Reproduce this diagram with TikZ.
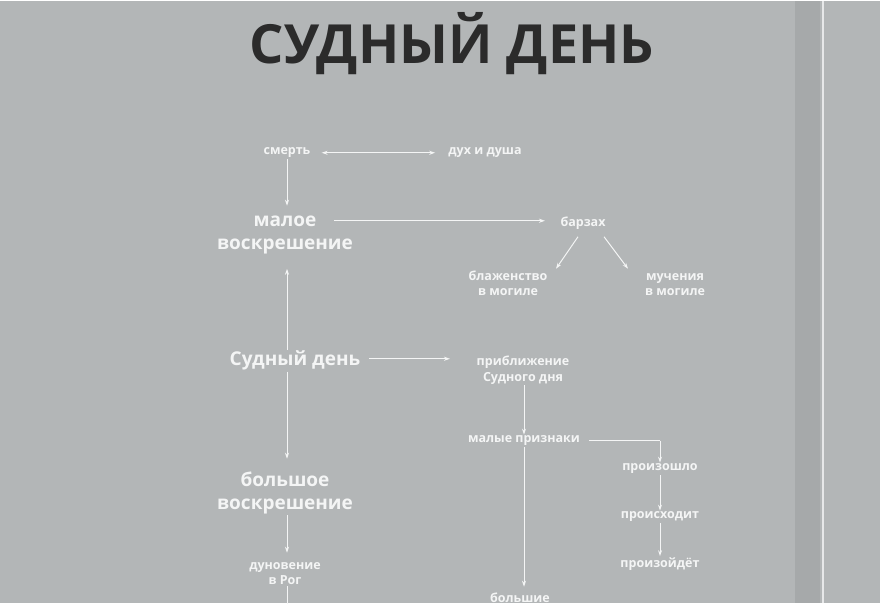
\documentclass[tikz,border=0pt]{standalone}
\usepackage{fontspec}
\setmainfont{Open Sans}
\usetikzlibrary{arrows.meta}
\definecolor{bgc}{HTML}{B3B6B7}
\definecolor{bandc}{HTML}{A6A9AA}
\definecolor{fg}{HTML}{F4F5F5}
\definecolor{ttl}{HTML}{2B2B2B}
\tikzset{
 sm/.style={text=fg,font=\fontsize{12.5}{12}\selectfont\bfseries,align=center,inner sep=1pt},
 big/.style={text=fg,font=\fontsize{19}{23}\selectfont\bfseries,align=center,inner sep=1pt},
 ar/.style={draw=fg,line width=1pt,-{Stealth[length=6pt,width=4pt]}},
 ln/.style={draw=fg,line width=1pt}
}
\begin{document}
\begin{tikzpicture}[x=1pt,y=-1pt]
\fill[bgc] (0,0) rectangle (880,602);
\fill[bandc] (795,0) rectangle (820,602);
\draw[fg!80!bgc,line width=1.5pt] (823,0) -- (823,602);
\useasboundingbox (0,0) rectangle (880,602);
\node[text=ttl,font=\fontsize{54}{58}\selectfont\bfseries] (title) at (452,43) {СУДНЫЙ ДЕНЬ};
\node[sm] (smert) at (287,152) {смерть};
\node[sm] (dukh) at (485,152) {дух и душа};
\node[big] (maloe) at (285,234) {малое\\воскрешение};
\node[sm] (barzakh) at (583,222) {барзах};
\node[sm,text height=9pt] (blazh) at (508,290) {блаженство\\[3pt]в могиле};
\node[sm,text height=9pt] (much) at (675,290) {мучения\\[3pt]в могиле};
\node[big] (sd) at (295,360) {Судный день};
\node[sm] (pribl) at (523,369) {приближение\\[3pt]Судного дня};
\node[sm] (malye) at (524,440) {малые признаки};
\node[sm] (p1) at (660,468) {произошло};
\node[sm] (p2) at (660,516) {происходит};
\node[sm] (p3) at (660,563) {произойдёт};
\node[sm] (bolshie) at (520,597) {большие};
\node[big] (bolshoe) at (285,492) {большое\\воскрешение};
\node[sm] (dunov) at (285,573) {дуновение\\[3pt]в Рог};
\coordinate (dend) at (287,610);
\coordinate (bend) at (660,440);
\draw[ar,{Stealth[length=6pt,width=4pt]}-{Stealth[length=6pt,width=4pt]}] ([xshift=10pt]smert.east) -- ([xshift=-12pt]dukh.west);
\draw[ar] (smert.south -| 287,0) -- (287,205);
\draw[ar] (334,220) -- (545,220);
\draw[ar] (578,236) -- (556,268);
\draw[ar] (604,236) -- (628,268);
\draw[ar] (sd.north -| 287,0) -- (287,268);
\draw[ar] (sd.south -| 287,0) -- (287,458);
\draw[ar] ([xshift=8pt]sd.east |- 0,358) -- (450,358);
\draw[ar] (pribl.south -| 524,0) -- (malye.north -| 524,0);
\draw[ln] ([xshift=8pt]malye.east) -- (bend);
\draw[ar] (bend) -- (p1.north);
\draw[ar] (p1.south) -- (p2.north);
\draw[ar] (p2.south) -- (p3.north);
\draw[ar] (malye.south) -- (524,586);
\draw[ar] (bolshoe.south -| 287,0) -- (287,552);
\draw[ln] (dunov.south -| 287,0) -- (dend);
\end{tikzpicture}
\end{document}
